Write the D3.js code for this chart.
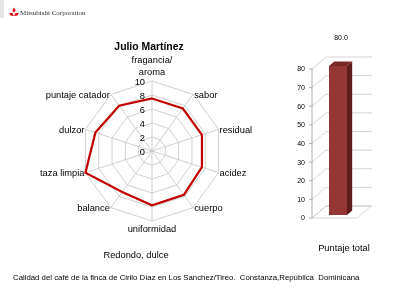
<!DOCTYPE html>
<html>
<head>
<meta charset="utf-8">
<script src="https://cdn.jsdelivr.net/npm/d3@7"></script>
<style>
  html, body { margin: 0; padding: 0; background: #fff; }
  svg { display: block; font-family: 'Liberation Sans', Arial, sans-serif; will-change: transform; }
</style>
</head>
<body>
<div id="chart"></div>
<script>
// cupping attributes (radar axes), clockwise from the top
const attributes = ['fragancia/aroma', 'sabor', 'residual', 'acidez', 'cuerpo', 'uniformidad', 'balance', 'taza limpia', 'dulzor', 'puntaje catador'];
const scores = [7.5, 7.5, 7.5, 7.5, 7.75, 7.75, 7.25, 10, 8.5, 8];
const radarTicks = [0, 2, 4, 6, 8, 10];

// total score bar
const totalCategories = ['Puntaje total'];
const totalValues = [80];
const barTicks = [0, 10, 20, 30, 40, 50, 60, 70, 80];

const width = 400, height = 300;
const svg = d3.select('#chart').append('svg')
  .attr('width', width)
  .attr('height', height);

// header strip + logo
svg.append('rect').attr('x', 0).attr('y', 0).attr('width', 4).attr('height', 18).attr('fill', '#e4e4e4');
const logo = svg.append('g').attr('transform', 'translate(14,13)');
const diamond = 'M0,-2.8 L1.6,0 L0,2.8 L-1.6,0 Z';
logo.append('path').attr('d', diamond).attr('transform', 'translate(0,-2.8)').attr('fill', '#e60012');
logo.append('path').attr('d', diamond).attr('transform', 'translate(-2.4,1.4) rotate(-60)').attr('fill', '#e60012');
logo.append('path').attr('d', diamond).attr('transform', 'translate(2.4,1.4) rotate(60)').attr('fill', '#e60012');
svg.append('text')
  .attr('x', 20).attr('y', 15)
  .style('font-family', "'Liberation Serif', 'DejaVu Serif', serif")
  .style('font-size', '7px')
  .attr('fill', '#333')
  .text('Mitsubishi Corporation');

// title
svg.append('text')
  .attr('x', 149).attr('y', 50)
  .attr('text-anchor', 'middle')
  .style('font-size', '10.4px')
  .style('font-weight', 'bold')
  .attr('fill', '#000')
  .text('Julio Martínez');

// ---------- radar ----------
const cx = 152, cy = 151;
const r = d3.scaleLinear().domain([0, 10]).range([0, 70]);
const angle = d3.scaleLinear().domain([0, attributes.length]).range([0, 2 * Math.PI]);
const pt = (i, v) => [cx + r(v) * Math.sin(angle(i)), cy - r(v) * Math.cos(angle(i))];

const radar = svg.append('g');

// rings
radarTicks.filter(t => t > 0).forEach(t => {
  radar.append('path')
    .attr('d', d3.line()(attributes.map((a, i) => pt(i, t))) + 'Z')
    .attr('fill', 'none')
    .attr('stroke', '#c4c4c4')
    .attr('stroke-width', 0.8);
});

// spokes
attributes.forEach((a, i) => {
  const [x2, y2] = pt(i, 10);
  radar.append('line')
    .attr('x1', cx).attr('y1', cy)
    .attr('x2', x2).attr('y2', y2)
    .attr('stroke', '#c4c4c4')
    .attr('stroke-width', 0.8);
});

// tick labels
radar.selectAll('.rtick')
  .data(radarTicks)
  .join('text')
  .attr('x', cx - 7)
  .attr('y', d => cy - r(d) + 1)
  .attr('dy', '0.35em')
  .attr('text-anchor', 'end')
  .style('font-size', '9.3px')
  .attr('fill', '#000')
  .text(d => d);

// score polygon
radar.append('path')
  .attr('d', d3.line()(scores.map((v, i) => pt(i, v))) + 'Z')
  .attr('fill', 'none')
  .attr('stroke', '#c00000')
  .attr('stroke-width', 2.2)
  .attr('stroke-linejoin', 'miter');

// axis labels
attributes.forEach((a, i) => {
  const [x, y] = pt(i, 10);
  const s = Math.sin(angle(i));
  const t = radar.append('text')
    .style('font-size', '9.3px')
    .attr('fill', '#000');
  if (Math.abs(s) < 0.01) {
    t.attr('text-anchor', 'middle').attr('x', x);
    if (y < cy) {
      const parts = a.split('/');
      t.append('tspan').attr('x', x).attr('y', y - 18).text(parts[0] + '/');
      t.append('tspan').attr('x', x).attr('y', y - 6).text(parts[1]);
    } else {
      t.attr('y', y + 11).text(a);
    }
  } else {
    t.attr('text-anchor', s > 0 ? 'start' : 'end')
      .attr('x', x + (s > 0 ? 1 : -1))
      .attr('y', y)
      .attr('dy', '0.35em')
      .text(a);
  }
});

svg.append('text')
  .attr('x', 136).attr('y', 258)
  .attr('text-anchor', 'middle')
  .style('font-size', '9.3px')
  .attr('fill', '#000')
  .text('Redondo, dulce');

// ---------- 3D bar ----------
const depth = { dx: 14, dy: -12 };
const y = d3.scaleLinear().domain([0, 80]).range([218, 69]);
const x = d3.scaleBand().domain(totalCategories).range([312, 357]).paddingInner(0).paddingOuter(0.75);

const bar = svg.append('g');

// back wall gridlines
barTicks.forEach(t => {
  bar.append('polyline')
    .attr('points', [[312, y(t)], [312 + depth.dx, y(t) + depth.dy], [372, y(t) + depth.dy]].map(p => p.join(',')).join(' '))
    .attr('fill', 'none')
    .attr('stroke', '#c8c8c8')
    .attr('stroke-width', 0.8);
});

// floor
bar.append('polygon')
  .attr('points', [[312, y(0)], [357, y(0)], [357 + depth.dx, y(0) + depth.dy], [312 + depth.dx, y(0) + depth.dy]].map(p => p.join(',')).join(' '))
  .attr('fill', 'none')
  .attr('stroke', '#c8c8c8')
  .attr('stroke-width', 0.8);

// axis
bar.append('line').attr('x1', 312).attr('x2', 312).attr('y1', y(80)).attr('y2', y(0))
  .attr('stroke', '#9a9a9a').attr('stroke-width', 0.8);
barTicks.forEach(t => {
  bar.append('line').attr('x1', 309).attr('x2', 312).attr('y1', y(t)).attr('y2', y(t))
    .attr('stroke', '#9a9a9a').attr('stroke-width', 0.8);
});
bar.selectAll('.btick')
  .data(barTicks)
  .join('text')
  .attr('x', 305)
  .attr('y', d => y(d))
  .attr('dy', '0.35em')
  .attr('text-anchor', 'end')
  .style('font-size', '7px')
  .attr('fill', '#000')
  .text(d => d);

// bar itself
const f1 = 0.25, f2 = 0.62;
totalCategories.forEach((c, i) => {
  const v = totalValues[i];
  const x0 = x(c) + depth.dx * f1, x1 = x0 + x.bandwidth();
  const yt = y(v) + depth.dy * f1, yb = y(0) + depth.dy * f1;
  const ddx = depth.dx * (f2 - f1), ddy = depth.dy * (f2 - f1);
  const poly = pts => pts.map(p => p.join(',')).join(' ');
  bar.append('polygon').attr('points', poly([[x1, yt], [x1 + ddx, yt + ddy], [x1 + ddx, yb + ddy], [x1, yb]]))
    .attr('fill', '#5c1d1b');
  bar.append('polygon').attr('points', poly([[x0, yt], [x1, yt], [x1 + ddx, yt + ddy], [x0 + ddx, yt + ddy]]))
    .attr('fill', '#7a2826');
  bar.append('rect').attr('x', x0).attr('y', yt).attr('width', x1 - x0).attr('height', yb - yt)
    .attr('fill', '#943634');

  svg.append('text')
    .attr('x', 341).attr('y', 40)
    .attr('text-anchor', 'middle')
    .style('font-size', '7px')
    .attr('fill', '#000')
    .text(v.toFixed(1));

  svg.append('text')
    .attr('x', 344).attr('y', 251)
    .attr('text-anchor', 'middle')
    .style('font-size', '9.3px')
    .attr('fill', '#000')
    .text(c);
});

// footer
svg.append('text')
  .attr('x', 13).attr('y', 280)
  .style('font-size', '7.8px')
  .style('white-space', 'pre')
  .attr('fill', '#000')
  .text('Calidad del café de la finca de Cirilo Díaz en Los Sanchez/Tireo.  Constanza,República  Dominicana');
</script>
</body>
</html>
